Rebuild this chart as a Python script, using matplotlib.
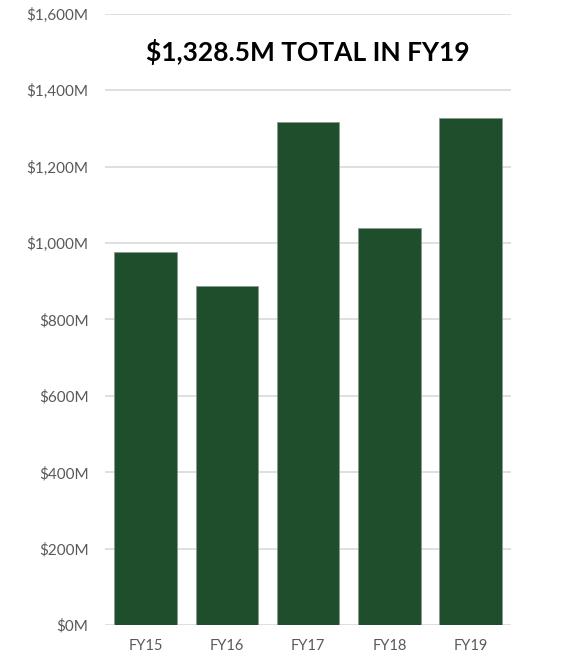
import matplotlib
matplotlib.use("Agg")
import matplotlib.pyplot as plt
from matplotlib.ticker import FuncFormatter, MultipleLocator

categories = ["FY15", "FY16", "FY17", "FY18", "FY19"]
values = [976, 888, 1316, 1039, 1328.5]
title = "$1,328.5M TOTAL IN FY19"

plt.rcParams['font.family'] = ['Lato', 'DejaVu Sans']

fig = plt.figure(figsize=(5.68, 6.58), dpi=100)
ax = fig.add_axes([0.185, 0.05, 0.715, 0.929])

x = range(len(categories))
ax.bar(x, values, width=0.77, color="#1f4e2c", edgecolor="#8a9a8e", linewidth=0.6, zorder=3)
ax.set_xlim(-0.5, len(categories) - 0.5)
ax.set_ylim(0, 1600)
ax.yaxis.set_major_locator(MultipleLocator(200))
ax.yaxis.set_major_formatter(FuncFormatter(lambda v, p: f"${v:,.0f}M"))
ax.set_xticks(list(x))
ax.set_xticklabels(categories)
ax.grid(axis="y", color="#d9d9d9", linewidth=1.2, zorder=0)
for s in ax.spines.values():
    s.set_visible(False)
ax.tick_params(axis="y", length=0, labelsize=11, labelcolor="#595959", pad=12)
ax.tick_params(axis="x", length=0, labelsize=10.5, labelcolor="#595959", pad=10)
ax.text(0.5, 0.938, title, transform=ax.transAxes, ha="center", va="center",
        fontsize=19, fontweight="bold", color="black")

fig.savefig("out.png", dpi=100, facecolor="white")
